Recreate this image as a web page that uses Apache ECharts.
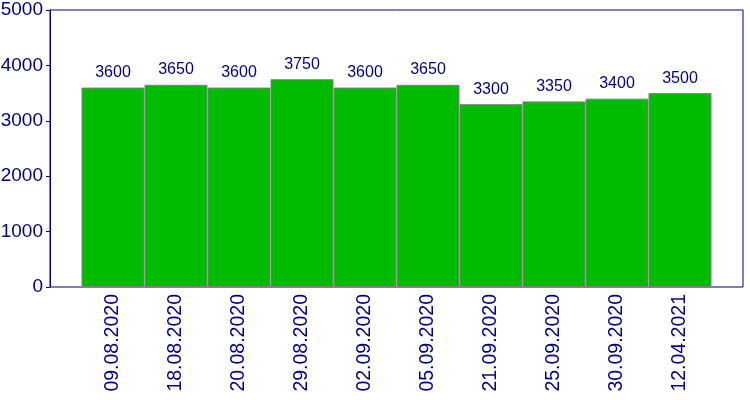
<!DOCTYPE html>
<html>
<head>
<meta charset="utf-8">
<script src="https://cdn.jsdelivr.net/npm/echarts@6/dist/echarts.min.js"></script>
<style>
  html, body { margin: 0; padding: 0; background: #fff; }
  #chart { width: 750px; height: 400px; }
</style>
</head>
<body>
<div id="chart"></div>
<script>
// fechas y valores
const fechas = ['09.08.2020', '18.08.2020', '20.08.2020', '29.08.2020', '02.09.2020',
                '05.09.2020', '21.09.2020', '25.09.2020', '30.09.2020', '12.04.2021'];
const valores = [3600, 3650, 3600, 3750, 3600, 3650, 3300, 3350, 3400, 3500];
const ticksY = [0, 1000, 2000, 3000, 4000, 5000];

const azul = '#000080';
const chart = echarts.init(document.getElementById('chart'));

chart.setOption({
    animation: false,
    grid: {
        left: 50, right: 7, top: 10, bottom: 113,
        containLabel: false,
        outerBoundsMode: 'none',
        show: true, borderColor: azul, borderWidth: 1
    },
    xAxis: {
        type: 'value',
        min: -1, max: 10, interval: 1,
        splitLine: { show: false },
        axisLine: { show: false, onZero: false },
        axisTick: { show: false },
        axisLabel: {
            rotate: 90,
            margin: 7,
            color: azul,
            fontSize: 19.5,
            fontFamily: 'Liberation Sans',
            showMinLabel: false,
            showMaxLabel: false,
            formatter: v => fechas[v] || ''
        }
    },
    yAxis: {
        type: 'value',
        min: ticksY[0], max: ticksY[ticksY.length - 1], interval: 1000,
        splitLine: { show: false },
        axisLine: { show: true, onZero: false, lineStyle: { color: azul } },
        axisTick: { show: true, length: 4, lineStyle: { color: azul } },
        axisLabel: {
            margin: 7,
            color: azul,
            fontSize: 19,
            fontFamily: 'Liberation Sans',
            formatter: v => String(v)
        }
    },
    series: [{
        type: 'bar',
        data: valores.map((v, i) => [i, v]),
        barWidth: 63,
        itemStyle: { color: '#00bb00', borderColor: '#808080', borderWidth: 1 },
        label: {
            show: true,
            position: 'top',
            distance: 7,
            color: azul,
            fontSize: 16,
            fontFamily: 'Liberation Sans',
            formatter: p => p.value[1]
        }
    }]
});
</script>
</body>
</html>
